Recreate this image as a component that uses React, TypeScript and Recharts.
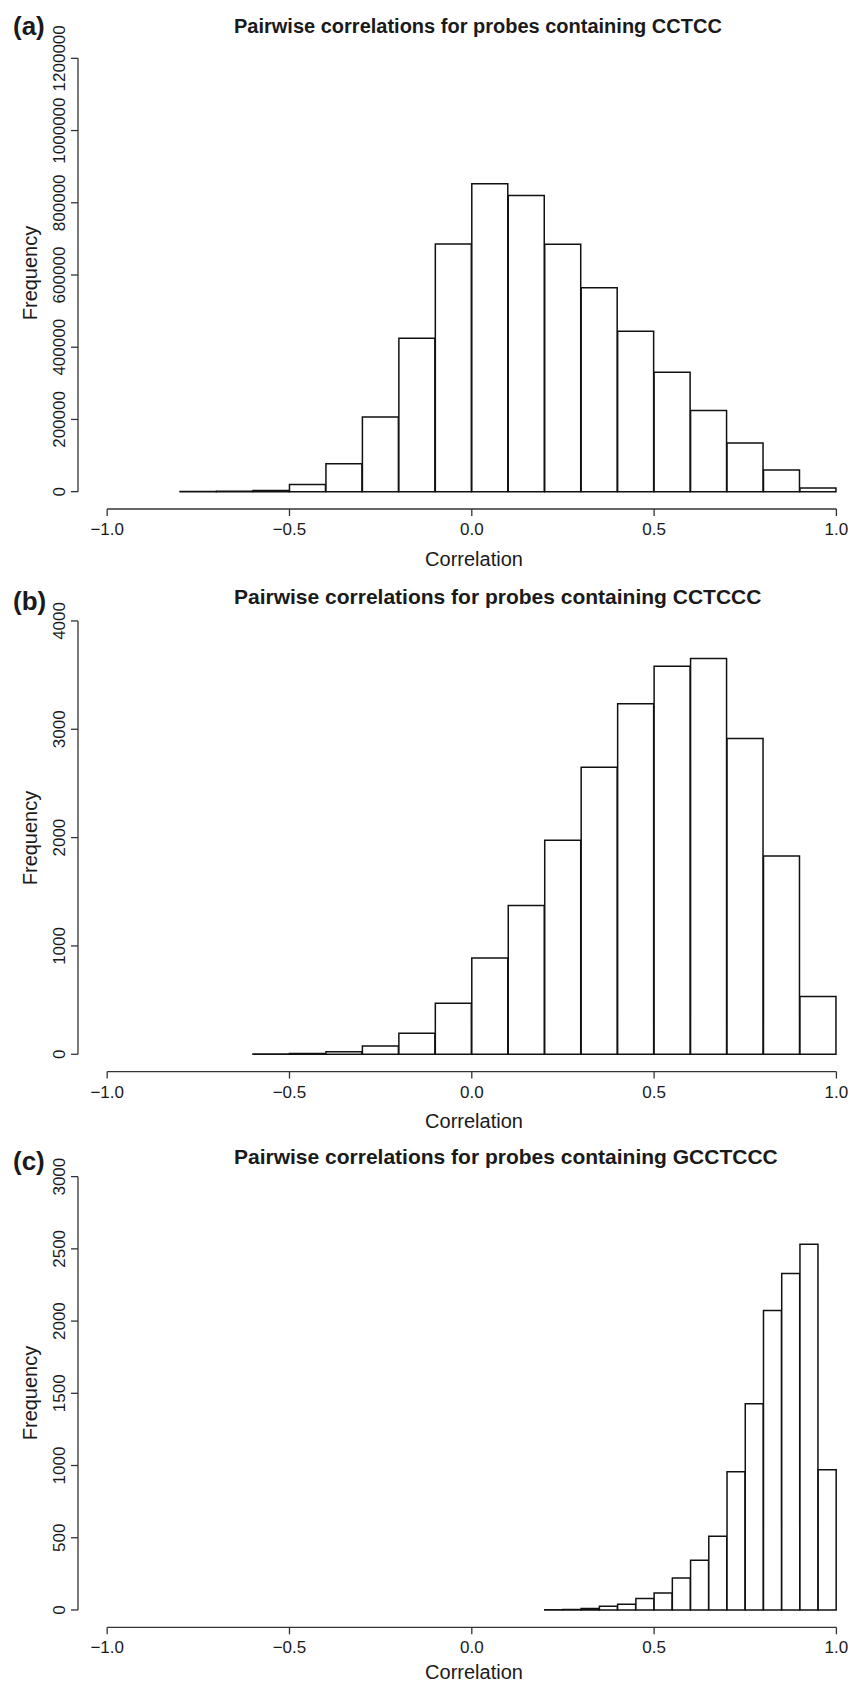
import { ComposedChart, Bar, XAxis, YAxis, ReferenceLine } from "recharts";

const FONT = "'Liberation Sans', Arial, Helvetica, sans-serif";
const INK = "#1a1a1a";

const xTicks = [-1, -0.5, 0, 0.5, 1];

// (a) probes containing CCTCC, bins of 0.1
const binStartA = [-0.8, -0.7, -0.6, -0.5, -0.4, -0.3, -0.2, -0.1, 0.0, 0.1, 0.2, 0.3, 0.4, 0.5, 0.6, 0.7, 0.8, 0.9];
const countA = [500, 1000, 3000, 20000, 77000, 207000, 425000, 686000, 853000, 820000, 685000, 565000, 444000, 331000, 225000, 135000, 60000, 10000];
const yTicksA = [0, 200000, 400000, 600000, 800000, 1000000, 1200000];

// (b) probes containing CCTCCC, bins of 0.1
const binStartB = [-0.6, -0.5, -0.4, -0.3, -0.2, -0.1, 0.0, 0.1, 0.2, 0.3, 0.4, 0.5, 0.6, 0.7, 0.8, 0.9];
const countB = [3, 8, 23, 76, 194, 471, 889, 1373, 1975, 2650, 3236, 3582, 3654, 2914, 1830, 533];
const yTicksB = [0, 1000, 2000, 3000, 4000];

// (c) probes containing GCCTCCC, bins of 0.05
const binStartC = [0.2, 0.25, 0.3, 0.35, 0.4, 0.45, 0.5, 0.55, 0.6, 0.65, 0.7, 0.75, 0.8, 0.85, 0.9, 0.95];
const countC = [1, 3, 10, 26, 40, 80, 118, 222, 344, 510, 957, 1428, 2074, 2330, 2532, 970];
const yTicksC = [0, 500, 1000, 1500, 2000, 2500, 3000];

const toBins = (starts: number[], counts: number[], w: number) =>
  starts.map((s, i) => ({ mid: +(s + w / 2).toFixed(3), count: counts[i] }));

const fmtX = (v: number) => (v < 0 ? `\u2212${Math.abs(v).toFixed(1)}` : v.toFixed(1));

const YTick = (props: any) => {
  const { x, y, payload } = props;
  const bx = x - 6;
  return (
    <text
      x={bx}
      y={y}
      transform={`rotate(-90 ${bx} ${y})`}
      textAnchor="middle"
      fontSize={17}
      fontFamily={FONT}
      fill={INK}
    >
      {payload.value}
    </text>
  );
};

type PanelProps = {
  data: { mid: number; count: number }[];
  yMax: number;
  yTicks: number[];
  top: number;
  height: number;
  plotTop: number;
  plotBottom: number;
};

const Panel = ({ data, yMax, yTicks, top, height, plotTop, plotBottom }: PanelProps) => {
  const axisH = 40;
  const yMin = -0.04 * yMax;
  return (
    <div style={{ position: "absolute", left: 0, top }}>
      <ComposedChart
        width={851}
        height={height}
        data={data}
        margin={{ top: plotTop, right: 0, bottom: height - plotBottom - axisH, left: 0 }}
        barCategoryGap={0}
        barGap={0}
      >
        <XAxis
          dataKey="mid"
          type="number"
          domain={[-1.08, 1.04]}
          allowDataOverflow
          ticks={xTicks}
          interval={0}
          tickFormatter={fmtX}
          axisLine={false}
          tickSize={7}
          tickMargin={7}
          height={axisH}
          tick={{ fontSize: 17, fill: INK, fontFamily: FONT }}
          tickLine={{ stroke: "#333", strokeWidth: 1.3 }}
        />
        <YAxis
          type="number"
          domain={[yMin, 1.04 * yMax]}
          allowDataOverflow
          ticks={yTicks}
          interval={0}
          width={78}
          axisLine={false}
          tickSize={7}
          tickMargin={0}
          tick={(p: any) => <YTick {...p} />}
          tickLine={{ stroke: "#333", strokeWidth: 1.3 }}
        />
        <Bar dataKey="count" fill="#ffffff" stroke="#111" strokeWidth={1.5} isAnimationActive={false} />
        <ReferenceLine
          segment={[{ x: -1, y: yMin }, { x: 1, y: yMin }]}
          stroke="#333"
          strokeWidth={1.3}
          ifOverflow="visible"
        />
        <ReferenceLine
          segment={[{ x: -1.08, y: 0 }, { x: -1.08, y: yMax }]}
          stroke="#333"
          strokeWidth={1.3}
          ifOverflow="visible"
        />
      </ComposedChart>
    </div>
  );
};

const titles = [
  { letter: "(a)", letterY: 35, text: "Pairwise correlations for probes containing CCTCC", y: 33, size: 20, freqY: 273, corrY: 566 },
  { letter: "(b)", letterY: 610, text: "Pairwise correlations for probes containing CCTCCC", y: 604, size: 21, freqY: 838, corrY: 1128 },
  { letter: "(c)", letterY: 1170, text: "Pairwise correlations for probes containing GCCTCCC", y: 1164, size: 21, freqY: 1393, corrY: 1679 },
];

export default function App() {
  return (
    <div style={{ position: "absolute", left: 0, top: 0, width: 851, height: 1686, overflow: "hidden", background: "#fff" }}>
      <Panel data={toBins(binStartA, countA, 0.1)} yMax={1200000} yTicks={yTicksA} top={0} height={560} plotTop={41} plotBottom={509} />
      <Panel data={toBins(binStartB, countB, 0.1)} yMax={4000} yTicks={yTicksB} top={560} height={560} plotTop={43.6} plotBottom={511.6} />
      <Panel data={toBins(binStartC, countC, 0.05)} yMax={3000} yTicks={yTicksC} top={1120} height={566} plotTop={39.3} plotBottom={507.3} />
      <svg width={851} height={1686} style={{ position: "absolute", left: 0, top: 0, pointerEvents: "none" }}>
        {titles.map((t) => (
          <g key={t.letter} fontFamily={FONT} fill={INK}>
            <text x={13} y={t.letterY} fontSize={26} fontWeight="bold">{t.letter}</text>
            <text x={234} y={t.y} fontSize={t.size} fontWeight="bold">{t.text}</text>
            <text x={37} y={t.freqY} fontSize={20} textAnchor="middle" transform={`rotate(-90 37 ${t.freqY})`}>Frequency</text>
            <text x={474} y={t.corrY} fontSize={20} textAnchor="middle">Correlation</text>
          </g>
        ))}
      </svg>
    </div>
  );
}
